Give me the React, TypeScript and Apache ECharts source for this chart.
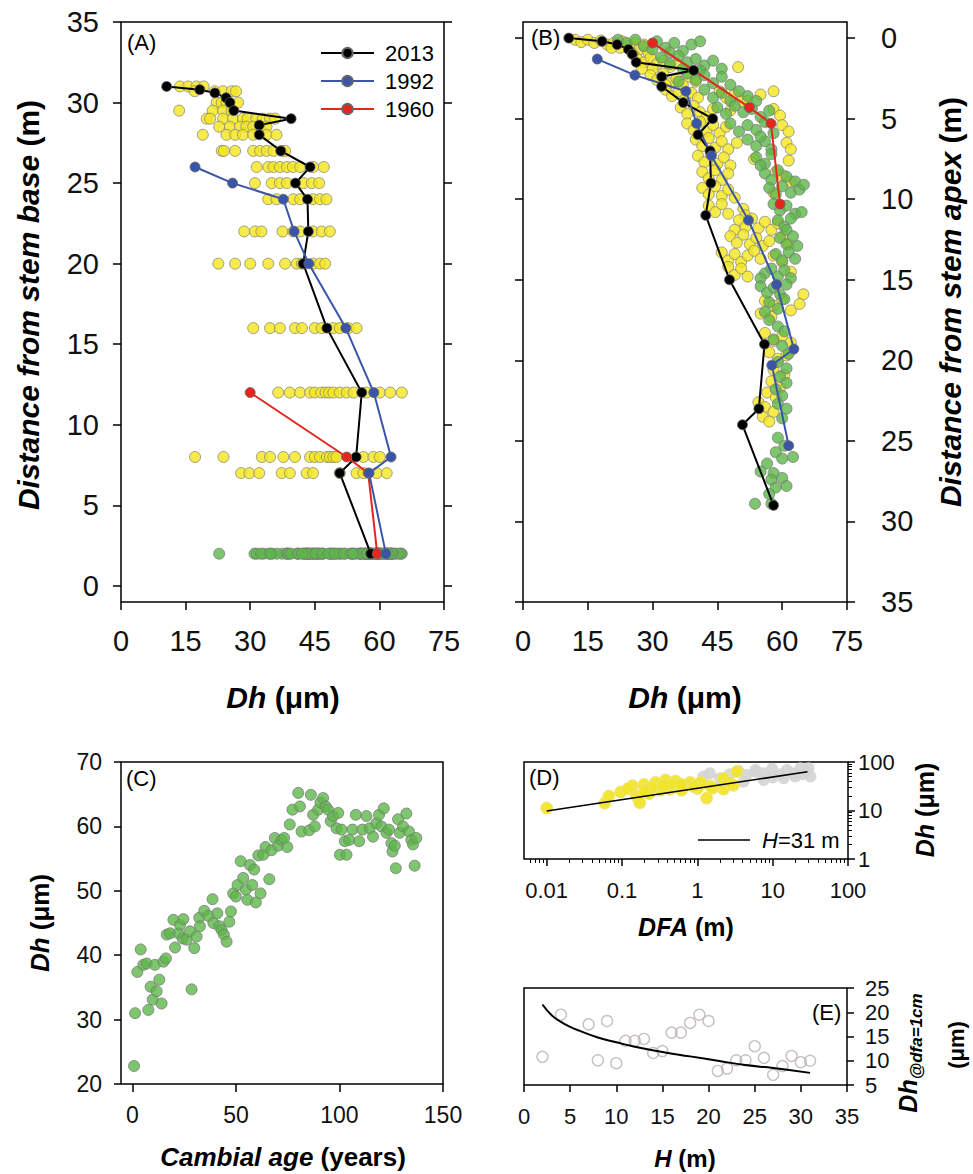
import React, { useEffect, useRef } from 'react';
import * as echarts from 'echarts';

const FONT = '"Liberation Sans", Arial, Helvetica, sans-serif';

// ---------- Panel A: Dh along the stem (height rows) ----------
const aRowHeights = [31, 30.7, 30, 29.5, 29, 28.5, 28, 27, 26, 25, 24, 22, 20, 16, 12, 8, 7];
const aRowDh = [
  [13.7, 15.6, 17.5, 19.2],
  [17.1, 21.8, 23.7, 25.7, 26.7],
  [22.2, 23.4, 24.5, 27.2],
  [13.5, 21.3, 23.7, 25.7],
  [19.9, 20.7, 23.7, 26.0, 28.3, 29.4, 31.4, 32.9, 34.6, 35.8],
  [22.8, 25.3, 27.6, 29.1, 30.7, 32.3, 33.8],
  [19.0, 24.5, 26.5, 28.3, 30.7, 33.8, 36.1],
  [23.4, 23.9, 26.5, 30.7, 32.3, 33.8, 35.4, 37.3, 38.1],
  [31.5, 34.2, 35.4, 36.9, 38.5, 39.9, 41.6, 44.6, 47.1],
  [31.1, 35.0, 36.9, 38.5, 42.4, 44.3, 46.0],
  [34.2, 36.1, 40.0, 41.6, 44.6, 46.2, 47.7],
  [28.6, 31.1, 32.6, 37.5, 40.0, 41.6, 44.6, 46.6, 48.5],
  [22.6, 26.5, 30.0, 34.2, 38.1, 40.8, 42.0, 44.6, 46.2, 47.4],
  [30.7, 34.6, 36.9, 40.4, 42.0, 45.0, 46.6, 49.3, 50.8, 52.8, 54.7],
  [36.5, 39.2, 41.6, 43.9, 45.0, 46.5, 47.5, 48.3, 49.3, 50.8, 52.4, 54.0, 57.0, 60.1, 62.5, 65.2],
  [17.2, 23.8, 32.7, 34.6, 37.7, 40.4, 43.9, 45.0, 46.2, 47.8, 48.5, 49.3, 50.0, 56.3, 58.6, 60.1],
  [27.9, 29.8, 32.1, 37.3, 39.2, 43.1, 44.6, 50.8, 54.7, 56.3, 59.4, 61.7],
];
const baseDiskHeight = 2;

// Tree heights at each survey year
const H2013 = 31;
const H1992 = 27.3;
const H1960 = 12.3;

const p2013Height = [31, 30.8, 30.6, 30.3, 30.0, 29.5, 29.0, 28.6, 28.0, 27.0, 26.0, 25.0, 24.0, 22.0, 20.0, 16.0, 12.0, 8.0, 7.0, 2.0];
const p2013Dh = [10.6, 18.3, 21.8, 24.4, 25.3, 26.2, 39.5, 32.1, 32.1, 37.1, 43.9, 40.5, 43.3, 43.5, 42.3, 47.8, 55.9, 54.6, 50.8, 58.0];
const p1992Height = [26, 25, 24, 22, 20, 16, 12, 8, 7, 2];
const p1992Dh = [17.2, 25.9, 37.7, 40.2, 43.6, 52.2, 58.7, 62.7, 57.6, 61.5];
const p1960Height = [12, 8, 7, 2];
const p1960Dh = [30.0, 52.4, 57.4, 59.5];

// ---------- Panel B: [Dh, distance from apex] ----------
const bYellow = [
  [12, 0.1], [13.5, 0.25], [15, 0.1], [16.5, 0.3], [18, 0.15], [19.5, 0.4], [21, 0.3], [22.5, 0.6], [23, 0.2], [24.5, 0.5], [26, 0.3], [27, 0.7], [28, 0.4], [29, 0.9], [25.5, 1.0], [20.5, 0.6],
  [26.5, 1.3], [28, 1.5], [29.5, 1.2], [31, 1.6], [32.5, 1.4], [34, 1.8], [30, 1.9], [35.5, 1.6], [49.8, 1.8], [27.5, 1.9],
  [29.5, 2.3], [31, 2.6], [32.5, 2.2], [34, 2.8], [35.5, 2.5], [37, 2.9], [38.5, 2.4], [33, 2.9], [40, 2.7],
  [33, 3.2], [34.5, 3.6], [36, 3.3], [37.5, 3.8], [39, 3.4], [40.5, 3.7], [45.5, 3.3], [47, 3.7], [49, 3.5], [50.5, 3.9], [55, 3.5], [58, 3.3], [52, 3.9],
  [36.5, 4.3], [38, 4.7], [39.5, 4.2], [41, 4.6], [42.5, 4.9], [44, 4.4], [58, 4.4], [59.5, 4.8], [48, 4.5],
  [38, 5.3], [39.5, 5.7], [41, 5.2], [42.5, 5.8], [44, 5.4], [45.5, 5.9], [47, 5.5], [60, 5.4], [61.5, 5.8],
  [40, 6.3], [41.5, 6.7], [43, 6.2], [44.5, 6.8], [46, 6.4], [47.5, 6.9], [49.5, 6.5], [61, 6.5], [62, 6.9],
  [40.5, 7.3], [42, 7.7], [43.5, 7.2], [45, 7.8], [46.5, 7.4], [48, 7.9], [53.5, 7.5], [61.5, 7.6],
  [41.5, 8.3], [43, 8.7], [44.5, 8.2], [46, 8.8], [47.5, 8.4], [60, 8.5], [62, 8.9], [58.5, 8.3],
  [41.5, 9.3], [43, 9.7], [44.5, 9.2], [46, 9.8], [47.5, 9.4], [49, 9.9], [58, 9.6],
  [43, 10.4], [44.5, 10.8], [46, 10.3], [47.5, 10.9], [51, 10.6], [51.5, 11.0],
  [50, 11.3], [51.5, 11.7], [53, 11.2], [54.5, 11.8], [56, 11.4], [57.5, 11.9], [59, 11.5], [49, 11.9],
  [48, 12.3], [49.5, 12.7], [51, 12.2], [52.5, 12.8], [54, 12.4], [55.5, 12.9], [57, 12.6], [60, 12.3], [61.5, 12.8],
  [46, 13.3], [47.5, 13.8], [49, 13.4], [50.5, 13.9], [52, 13.5], [53.5, 13.2], [55, 13.7], [58, 13.5], [60, 13.9],
  [47.5, 14.2], [49, 14.7], [50.5, 14.3], [52, 14.8], [62, 14.5],
  [64.9, 15.9], [56, 16.3], [58, 16.6], [60, 16.2], [62, 16.9], [64, 16.5], [55, 17.1], [57.5, 17.3],
  [56, 18.3], [58, 18.8], [60, 18.5], [62, 18.9], [57, 19.5], [59, 19.9], [61, 19.7], [58, 20.6], [60.5, 20.9], [57.5, 21.3], [59.5, 21.7], [56.5, 22.0], [58.5, 22.3], [54.5, 22.6], [56, 22.9], [58, 23.2], [55.5, 23.5], [57, 23.8],
];
const bGreen = [
  [22, 0.1], [24, 0.3], [26, 0.1], [28, 0.5], [31, 0.2], [33, 0.6], [35, 0.3], [37, 0.8], [39, 0.4], [41, 0.2], [34, 0.9], [30, 0.7],
  [32, 1.2], [34, 1.6], [36, 1.1], [38, 1.5], [40, 1.3], [42, 1.7], [44, 1.4], [46, 1.9], [37, 1.9], [41, 2.0],
  [38, 2.2], [40, 2.6], [42, 2.3], [44, 2.8], [46, 2.4], [48, 2.9], [36, 2.7],
  [42, 3.2], [44, 3.7], [46, 3.4], [48, 3.9], [50, 3.3], [52, 3.6], [54, 3.9],
  [45, 4.3], [47, 4.7], [49, 4.2], [51, 4.6], [53, 4.4], [55, 4.9], [57, 4.5],
  [48, 5.3], [50, 5.8], [52, 5.4], [54, 5.7], [56, 5.2], [58, 5.9],
  [52, 6.3], [54, 6.7], [56, 6.4], [57.5, 6.9], [55, 6.1],
  [54, 7.4], [56, 7.8], [57.5, 7.2], [55, 7.9],
  [56, 8.4], [57.5, 8.8], [59, 8.2], [61, 8.6], [63, 8.9],
  [57, 9.3], [58.5, 9.7], [60, 9.2], [62, 9.6], [64, 9.4], [65, 9.1],
  [58, 10.3], [59.5, 10.7], [61, 10.4], [63, 10.9], [64.5, 10.8],
  [59, 11.3], [60.5, 11.7], [62, 11.2], [61, 11.9],
  [59.5, 12.4], [61, 12.8], [62.5, 12.3], [63.5, 12.9],
  [58.5, 13.4], [60, 13.8], [61.5, 13.3], [63, 13.7],
  [56, 14.6], [57.5, 14.3], [59, 14.8], [60.5, 14.4], [62, 14.9], [55, 14.9],
  [55, 15.4], [56.5, 15.8], [58, 15.5], [59.5, 15.9], [61, 15.3], [57, 16.4], [59, 16.8], [60.5, 16.2], [56, 17.0],
  [57, 17.5], [59, 17.9], [60.5, 18.2], [58, 18.7], [60, 19.1], [61.5, 19.6], [59, 20.1], [61, 20.5], [59.5, 21.0], [61, 21.4], [58.5, 21.8], [60, 22.2], [59, 22.7], [61, 23.0], [60, 23.6],
  [59, 24.8], [60.5, 25.3], [58.5, 25.7], [60, 26.1], [62.5, 26.0], [56.5, 26.4], [55, 26.9], [58, 27.0], [57.5, 27.4], [60, 27.3], [58.5, 27.9], [61, 27.8], [57, 28.3], [53.7, 28.9], [57.5, 28.9],
];

// ---------- Panel C: Dh vs cambial age at base disk ----------
const cAge = [0.8, 1.3, 2.4, 4.0, 5.3, 6.9, 7.7, 8.8, 9.8, 10.9, 11.7, 13.0, 14.1, 15.0, 16.2, 16.6, 18.2, 19.8, 20.6, 22.2, 23.0, 24.6, 24.3, 26.2, 27.8, 28.6, 29.9, 31.0, 32.3, 32.6, 34.7, 36.7, 38.7, 39.1, 41.0, 42.0, 43.1, 44.2, 45.5, 46.8, 47.6, 48.7, 50.0, 50.8, 52.3, 53.5, 54.8, 55.5, 56.8, 57.9, 58.8, 59.6, 60.8, 61.9, 63.2, 64.3, 66.1, 67.2, 68.8, 70.4, 72.0, 73.3, 74.8, 76.0, 77.3, 80.1, 80.9, 81.7, 85.4, 86.2, 87.3, 88.1, 89.7, 90.8, 92.1, 93.4, 94.5, 95.8, 96.9, 98.6, 99.4, 100.2, 101.0, 102.6, 103.4, 104.7, 106.3, 107.9, 109.5, 111.1, 113.0, 114.6, 116.2, 117.8, 119.1, 120.3, 121.4, 122.7, 123.9, 125.1, 125.6, 126.7, 127.2, 128.3, 129.1, 130.7, 132.3, 133.6, 134.7, 135.5, 136.3, 137.1];
const cDh = [22.8, 31.0, 37.4, 40.9, 38.5, 38.7, 31.5, 35.1, 33.1, 38.5, 34.4, 36.2, 32.5, 39.0, 39.5, 43.2, 43.4, 45.5, 41.2, 43.4, 44.7, 45.6, 42.6, 42.4, 43.7, 34.7, 41.1, 42.9, 45.8, 44.5, 46.9, 46.1, 48.7, 45.0, 46.5, 44.5, 43.9, 43.2, 42.1, 45.2, 46.8, 49.6, 49.1, 50.9, 54.6, 52.0, 50.2, 48.6, 54.0, 50.9, 53.3, 48.2, 55.5, 49.6, 55.6, 56.8, 51.8, 56.3, 58.2, 57.0, 57.9, 58.2, 56.8, 60.3, 62.6, 65.2, 63.1, 59.2, 59.4, 64.9, 61.8, 60.0, 62.6, 63.7, 64.4, 63.1, 62.6, 60.8, 61.6, 59.7, 62.1, 55.6, 59.5, 57.7, 55.6, 57.9, 59.5, 61.8, 57.7, 59.5, 61.6, 59.7, 58.4, 60.5, 61.8, 60.0, 62.8, 59.0, 59.5, 57.4, 56.1, 57.0, 53.5, 61.1, 59.0, 60.0, 62.0, 59.2, 57.9, 57.2, 53.9, 58.2];
const cXTicks = [0, 50, 100, 150];

// ---------- Panel D: Dh vs distance from apex (log-log) ----------
const dYellowDfa = [0.01, 0.059, 0.067, 0.096, 0.137, 0.155, 0.172, 0.195, 0.229, 0.278, 0.324, 0.378, 0.432, 0.514, 0.618, 0.798, 1.0, 1.33, 1.47, 2.22, 3.34, 2.22, 0.25, 0.45, 0.7, 1.1, 0.12, 0.2, 0.35, 0.6, 0.9, 1.6, 2.6, 3.0];
const dYellowDh = [11.2, 14.2, 19.9, 24.1, 32.3, 19.9, 14.4, 34.4, 22.3, 37.9, 26.2, 42.5, 27.5, 40.4, 26.2, 37.9, 28.4, 18.0, 32.3, 27.5, 63.6, 46.0, 30.0, 35.0, 33.0, 38.0, 28.0, 25.0, 33.0, 35.0, 31.0, 29.0, 38.0, 33.0];
const dGrayDfa = [1.2, 1.47, 2.0, 2.7, 3.5, 4.5, 5.9, 7.6, 9.8, 12.7, 15.5, 19.1, 23.4, 28.7, 31.8, 30.0, 14.0, 7.6, 4.1, 2.2, 10.0, 20.0, 25.0, 6.0];
const dGrayDh = [50, 58.6, 46, 55.8, 65.8, 54.4, 68.9, 58.6, 72.5, 55.8, 68.9, 58.6, 74.6, 63.6, 50, 74.6, 46, 42.5, 39, 36, 48, 50, 56, 62];
const dFitDfa = [0.01, 29];
const dFitDh = [9.8, 63];
const dMajorX = [0.01, 0.1, 1, 10, 100];
const dMinorX = [0.006, 0.007, 0.008, 0.009, 0.02, 0.03, 0.04, 0.05, 0.06, 0.07, 0.08, 0.09, 0.2, 0.3, 0.4, 0.5, 0.6, 0.7, 0.8, 0.9, 2, 3, 4, 5, 6, 7, 8, 9, 20, 30, 40, 50, 60, 70, 80, 90];
const dMajorY = [1, 10, 100];
const dMinorY = [2, 3, 4, 5, 6, 7, 8, 9, 20, 30, 40, 50, 60, 70, 80, 90];

// ---------- Panel E: Dh at dfa = 1 cm vs tree height ----------
const eH = [2, 4, 7, 8, 9, 10, 11, 12, 13, 14, 15, 16, 17, 18, 19, 20, 21, 22, 23, 24, 25, 26, 27, 28, 29, 30, 31];
const eDh = [10.8, 19.5, 17.5, 10.1, 18.2, 9.5, 14.1, 14.1, 14.5, 11.6, 12.0, 15.8, 15.8, 17.8, 19.5, 18.2, 7.9, 8.4, 10.1, 10.1, 13.0, 10.6, 7.1, 8.9, 11.0, 9.7, 10.0];
const eFitH = [2, 3, 4, 5, 6, 8, 10, 12, 15, 18, 21, 24, 27, 31];
const eFitDh = [21.6, 19.4, 18.0, 17.0, 16.2, 14.8, 13.8, 12.9, 11.8, 10.9, 10.0, 9.1, 8.5, 7.5];

const aYTicks = [0, 5, 10, 15, 20, 25, 30, 35];

// ---------- styles ----------
const YELLOW = { color: '#f5e61c', borderColor: '#8a8a78', borderWidth: 1 };
const GREEN = { color: '#5cb848', borderColor: '#7a7a7a', borderWidth: 1 };
const C_BLACK = '#000000';
const C_BLUE = '#3a55a8';
const C_RED = '#e6261c';
const TICK_LINE = { color: '#000', width: 1.5 };
const NO_LINE = { show: false, onZero: false };

function lbl(fontSize: number, margin: number, extra: any = {}) {
  return { fontSize, margin, color: '#111', fontFamily: FONT, ...extra };
}

function richTitle(fs: number) {
  return {
    i: { fontSize: fs, fontWeight: 'bold', fontStyle: 'italic', fontFamily: FONT, fill: '#000' },
    n: { fontSize: fs, fontWeight: 'bold', fontFamily: FONT, fill: '#000' },
  };
}

function titleText(x: number, y: number, text: string, fs: number, rotate = false) {
  return {
    type: 'text',
    x,
    y,
    rotation: rotate ? Math.PI / 2 : 0,
    style: { text, rich: richTitle(fs), align: 'center', verticalAlign: 'middle' },
  };
}

function panelLabel(x: number, y: number, text: string) {
  return {
    type: 'text',
    x,
    y,
    style: { text, fontSize: 22, fontFamily: FONT, fill: '#000', align: 'left', verticalAlign: 'middle' },
  };
}

function lineSeries(name: string, color: string, xi: number, yi: number, data: number[][]) {
  return {
    type: 'line',
    name,
    xAxisIndex: xi,
    yAxisIndex: yi,
    data,
    symbol: 'circle',
    symbolSize: 10,
    showSymbol: true,
    lineStyle: { color, width: 2 },
    itemStyle: { color, borderColor: '#666', borderWidth: 0.8 },
    z: 3,
  };
}

function buildOption() {
  const aYellowPts: number[][] = [];
  aRowHeights.forEach((h, i) => aRowDh[i].forEach((d) => aYellowPts.push([d, h])));
  const aGreenPts = cDh.map((d) => [d, baseDiskHeight]);

  const a2013 = p2013Dh.map((d, i) => [d, p2013Height[i]]);
  const a1992 = p1992Dh.map((d, i) => [d, p1992Height[i]]);
  const a1960 = p1960Dh.map((d, i) => [d, p1960Height[i]]);
  const b2013 = p2013Dh.map((d, i) => [d, H2013 - p2013Height[i]]);
  const b1992 = p1992Dh.map((d, i) => [d, H1992 - p1992Height[i]]);
  const b1960 = p1960Dh.map((d, i) => [d, H1960 - p1960Height[i]]);

  const gridBase = { show: true, borderColor: '#000', borderWidth: 1.5, backgroundColor: 'transparent', containLabel: false, outerBoundsMode: 'none' };

  return {
    animation: false,
    backgroundColor: '#fff',
    textStyle: { fontFamily: FONT },
    grid: [
      { ...gridBase, left: 121, top: 22, width: 323, height: 580 },
      { ...gridBase, left: 523, top: 22, width: 324, height: 580 },
      { ...gridBase, left: 121, top: 762, width: 322, height: 322 },
      { ...gridBase, left: 524, top: 762, width: 324, height: 97 },
      { ...gridBase, show: false, left: 524, top: 762, width: 324, height: 97 },
      { ...gridBase, left: 524, top: 988, width: 323, height: 97 },
    ],
    legend: {
      data: ['2013', '1992', '1960'],
      orient: 'vertical',
      left: 315,
      top: 37,
      itemWidth: 53,
      itemHeight: 13,
      itemGap: 6,
      selectedMode: false,
      textStyle: { fontSize: 22, fontFamily: FONT, color: '#000', lineHeight: 22, padding: [0, 0, 0, 6] },
    },
    xAxis: [
      { gridIndex: 0, type: 'value', min: 0, max: 75, interval: 15, position: 'bottom', axisLine: NO_LINE, splitLine: { show: false }, axisTick: { length: 8, lineStyle: TICK_LINE }, axisLabel: lbl(29, 24) },
      { gridIndex: 1, type: 'value', min: 0, max: 75, interval: 15, position: 'bottom', axisLine: NO_LINE, splitLine: { show: false }, axisTick: { length: 8, lineStyle: TICK_LINE }, axisLabel: lbl(29, 24) },
      { gridIndex: 2, type: 'value', min: -5.5, max: 150, position: 'bottom', axisLine: NO_LINE, splitLine: { show: false }, axisTick: { customValues: cXTicks, length: 8, lineStyle: TICK_LINE }, axisLabel: lbl(23, 19, { customValues: cXTicks }) },
      { gridIndex: 3, type: 'log', logBase: 10, min: 0.005, max: 100, position: 'bottom', axisLine: NO_LINE, splitLine: { show: false }, axisTick: { customValues: dMajorX, length: 7, lineStyle: TICK_LINE }, axisLabel: lbl(22, 20, { customValues: dMajorX, formatter: (v: number) => String(Number(Number(v).toPrecision(3))) }) },
      { gridIndex: 4, type: 'log', logBase: 10, min: 0.005, max: 100, position: 'bottom', axisLine: NO_LINE, splitLine: { show: false }, axisTick: { customValues: dMinorX, length: 4, lineStyle: { color: '#000', width: 1 } }, axisLabel: { show: false } },
      { gridIndex: 5, type: 'value', min: 0, max: 35, interval: 5, position: 'bottom', axisLine: NO_LINE, splitLine: { show: false }, axisTick: { length: 7, lineStyle: TICK_LINE }, axisLabel: lbl(22, 20) },
    ],
    yAxis: [
      { gridIndex: 0, type: 'value', min: -1, max: 35, position: 'left', axisLine: NO_LINE, splitLine: { show: false }, axisTick: { customValues: aYTicks, length: 8, lineStyle: TICK_LINE }, axisLabel: lbl(29, 22, { customValues: aYTicks }) },
      { gridIndex: 0, type: 'value', min: -1, max: 35, position: 'right', axisLine: NO_LINE, splitLine: { show: false }, axisTick: { customValues: aYTicks, length: 8, lineStyle: TICK_LINE }, axisLabel: { show: false } },
      { gridIndex: 1, type: 'value', min: -1, max: 35, inverse: true, position: 'left', axisLine: NO_LINE, splitLine: { show: false }, axisTick: { customValues: aYTicks, length: 8, lineStyle: TICK_LINE }, axisLabel: { show: false } },
      { gridIndex: 1, type: 'value', min: -1, max: 35, inverse: true, position: 'right', axisLine: NO_LINE, splitLine: { show: false }, axisTick: { customValues: aYTicks, length: 8, lineStyle: TICK_LINE }, axisLabel: lbl(29, 34, { customValues: aYTicks }) },
      { gridIndex: 2, type: 'value', min: 20, max: 70, interval: 10, position: 'left', axisLine: NO_LINE, splitLine: { show: false }, axisTick: { length: 7, lineStyle: TICK_LINE }, axisLabel: lbl(23, 19) },
      { gridIndex: 3, type: 'log', logBase: 10, min: 1, max: 100, position: 'right', axisLine: NO_LINE, splitLine: { show: false }, axisTick: { customValues: dMajorY, length: 7, lineStyle: TICK_LINE }, axisLabel: lbl(22, 10, { customValues: dMajorY }) },
      { gridIndex: 4, type: 'log', logBase: 10, min: 1, max: 100, position: 'right', axisLine: NO_LINE, splitLine: { show: false }, axisTick: { customValues: dMinorY, length: 4, lineStyle: { color: '#000', width: 1 } }, axisLabel: { show: false } },
      { gridIndex: 5, type: 'value', min: 5, max: 25, interval: 5, position: 'right', axisLine: NO_LINE, splitLine: { show: false }, axisTick: { length: 7, lineStyle: TICK_LINE }, axisLabel: lbl(22, 18) },
    ],
    series: [
      // Panel A
      { type: 'scatter', name: 'A rings', xAxisIndex: 0, yAxisIndex: 0, data: aYellowPts, symbolSize: 11, itemStyle: YELLOW, z: 2 },
      { type: 'scatter', name: 'A base', xAxisIndex: 0, yAxisIndex: 0, data: aGreenPts, symbolSize: 11, itemStyle: GREEN, z: 2 },
      lineSeries('2013', C_BLACK, 0, 0, a2013),
      lineSeries('1960', C_RED, 0, 0, a1960),
      lineSeries('1992', C_BLUE, 0, 0, a1992),
      // Panel B
      { type: 'scatter', name: 'B rings', xAxisIndex: 1, yAxisIndex: 3, data: bYellow, symbolSize: 11, itemStyle: YELLOW, z: 2 },
      { type: 'scatter', name: 'B base', xAxisIndex: 1, yAxisIndex: 3, data: bGreen, symbolSize: 11, itemStyle: GREEN, z: 2 },
      lineSeries('2013', C_BLACK, 1, 3, b2013),
      lineSeries('1960', C_RED, 1, 3, b1960),
      lineSeries('1992', C_BLUE, 1, 3, b1992),
      // Panel C
      { type: 'scatter', name: 'C', xAxisIndex: 2, yAxisIndex: 4, data: cAge.map((a, i) => [a, cDh[i]]), symbolSize: 11, itemStyle: GREEN },
      // Panel D
      { type: 'scatter', name: 'D gray', xAxisIndex: 3, yAxisIndex: 5, data: dGrayDfa.map((x, i) => [x, dGrayDh[i]]), symbolSize: 12, itemStyle: { color: '#d4d4d4', opacity: 0.9 } },
      { type: 'scatter', name: 'D yellow', xAxisIndex: 3, yAxisIndex: 5, data: dYellowDfa.map((x, i) => [x, dYellowDh[i]]), symbolSize: 12, itemStyle: { color: '#f2e425', borderColor: '#ece58a', borderWidth: 1, opacity: 0.92 } },
      { type: 'line', name: 'D fit', xAxisIndex: 3, yAxisIndex: 5, data: dFitDfa.map((x, i) => [x, dFitDh[i]]), symbol: 'none', lineStyle: { color: '#000', width: 1.6 }, z: 3 },
      // Panel E
      { type: 'scatter', name: 'E', xAxisIndex: 5, yAxisIndex: 7, data: eH.map((h, i) => [h, eDh[i]]), symbol: 'circle', symbolSize: 11, itemStyle: { color: 'rgba(255,255,255,0)', borderColor: '#b9b1b1', borderWidth: 1.4 } },
      { type: 'line', name: 'E fit', xAxisIndex: 5, yAxisIndex: 7, data: eFitH.map((h, i) => [h, eFitDh[i]]), smooth: true, symbol: 'none', lineStyle: { color: '#000', width: 2 }, z: 3 },
    ],
    graphic: [
      titleText(28, 305, '{i|Distance from stem base}{n| (m)}', 30, true),
      titleText(950, 302, '{i|Distance from stem apex}{n| (m)}', 30, true),
      titleText(283, 697, '{i|Dh}{n| (\u03bcm)}', 30),
      titleText(685, 697, '{i|Dh}{n| (\u03bcm)}', 30),
      titleText(40, 923, '{i|Dh}{n| (\u03bcm)}', 26, true),
      titleText(283, 1157, '{i|Cambial age}{n| (years)}', 26),
      titleText(925, 810, '{i|Dh}{n| (\u03bcm)}', 25, true),
      titleText(686, 927, '{i|DFA}{n| (m)}', 25),
      titleText(685, 1158, '{i|H}{n| (m)}', 24),
      {
        type: 'text',
        x: 910,
        y: 1053,
        rotation: Math.PI / 2,
        style: {
          text: '{i|Dh}{s|@dfa=1cm}',
          align: 'center',
          verticalAlign: 'middle',
          rich: {
            i: { fontSize: 25, fontWeight: 'bold', fontStyle: 'italic', fontFamily: FONT, fill: '#000', lineHeight: 30, verticalAlign: 'top' },
            s: { fontSize: 17, fontWeight: 'bold', fontStyle: 'italic', fontFamily: FONT, fill: '#000', lineHeight: 30, verticalAlign: 'bottom' },
          },
        },
      },
      titleText(956, 1045, '{n|(\u03bcm)}', 22, true),
      panelLabel(127, 42, '(A)'),
      panelLabel(531, 37, '(B)'),
      panelLabel(126, 778, '(C)'),
      panelLabel(529, 777, '(D)'),
      panelLabel(812, 1012, '(E)'),
      { type: 'line', shape: { x1: 698, y1: 840, x2: 750, y2: 840 }, style: { stroke: '#000', lineWidth: 1.6 } },
      {
        type: 'text',
        x: 762,
        y: 840,
        style: {
          text: '{i|H}{n|=31 m}',
          align: 'left',
          verticalAlign: 'middle',
          rich: {
            i: { fontSize: 22, fontStyle: 'italic', fontFamily: FONT, fill: '#000' },
            n: { fontSize: 22, fontFamily: FONT, fill: '#000' },
          },
        },
      },
    ],
  };
}

export default function App() {
  const ref = useRef<HTMLDivElement>(null);
  useEffect(() => {
    if (!ref.current) return;
    const chart = echarts.init(ref.current, null, { renderer: 'svg' });
    chart.setOption(buildOption() as any);
    return () => chart.dispose();
  }, []);
  return (
    <div
      ref={ref}
      style={{ position: 'absolute', left: 0, top: 0, width: 973, height: 1174, background: '#fff' }}
    />
  );
}
